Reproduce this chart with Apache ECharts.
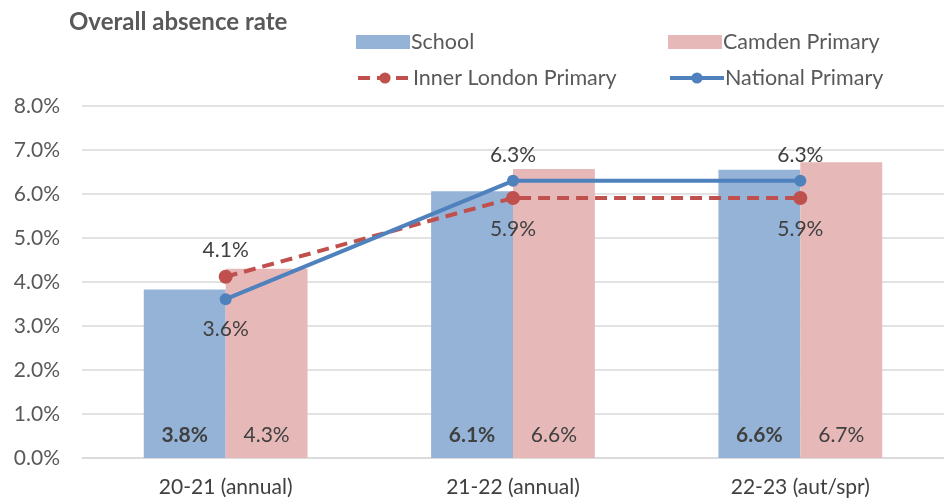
<!DOCTYPE html>
<html><head><meta charset="utf-8">
<script src="https://cdn.jsdelivr.net/npm/echarts@6/dist/echarts.min.js"></script>
<style>html,body{margin:0;padding:0;background:#fff}#c{width:944px;height:500px}</style>
</head><body><div id="c"></div>
<script>
const categories = ['20-21 (annual)', '21-22 (annual)', '22-23 (aut/spr)'];
const school = [3.83, 6.06, 6.55];
const camden = [4.3, 6.57, 6.72];
const innerLondon = [4.12, 5.91, 5.91];
const national = [3.61, 6.3, 6.3];
const schoolLabels = ['3.8%', '6.1%', '6.6%'];
const camdenLabels = ['4.3%', '6.6%', '6.7%'];
const innerLabels = ['4.1%', '5.9%', '5.9%'];
const nationalLabels = ['3.6%', '6.3%', '6.3%'];
const yTicks = [0, 1, 2, 3, 4, 5, 6, 7, 8];

const FONT = 'Lato';
const TXT = '#404040';
const FS = 21;
const chart = echarts.init(document.getElementById('c'), null, {renderer: 'canvas'});
function legendAt(name, left, top, icon) {
  const o = {data: [name], left: left, top: top, itemWidth: 54, itemHeight: 14, itemGap: 5,
    textStyle: {fontFamily: FONT, fontSize: 21.5, color: '#595959', padding: [0, 0, 0, -4]}};
  if (icon) o.icon = icon; else o.lineStyle = {width: 4};
  return o;
}
chart.setOption({
  animation: false,
  textStyle: {fontFamily: FONT},
  title: {text: 'Overall absence rate', left: 64, top: 5,
    textStyle: {fontFamily: FONT, fontSize: 24, fontWeight: 'bold', color: '#595959'}},
  legend: [
    legendAt('School', 351, 26, 'rect'),
    legendAt('Camden Primary', 663, 26, 'rect'),
    legendAt('Inner London Primary', 351, 62),
    legendAt('National Primary', 663, 62)
  ],
  grid: {left: 82, right: -5, top: 106, bottom: 42, containLabel: false},
  xAxis: {type: 'category', data: categories,
    axisLine: {lineStyle: {color: '#D9D9D9', width: 1.5}}, axisTick: {show: false},
    axisLabel: {fontFamily: FONT, fontSize: FS, color: TXT, margin: 19}},
  yAxis: {type: 'value', min: yTicks[0], max: yTicks[yTicks.length - 1], interval: 1,
    axisLine: {show: false}, axisTick: {show: false},
    splitLine: {lineStyle: {color: '#D9D9D9', width: 1.5}},
    axisLabel: {fontFamily: FONT, fontSize: FS, color: '#595959', margin: 22,
      formatter: v => v.toFixed(1) + '%'}},
  series: [
    {name: 'School', type: 'bar', data: school, barGap: 0, barCategoryGap: '43%',
      itemStyle: {color: '#95B3D7'},
      label: {show: true, position: 'insideBottom', distance: 12, fontFamily: FONT, fontSize: FS,
        fontWeight: 'bold', color: TXT, formatter: p => schoolLabels[p.dataIndex]}},
    {name: 'Camden Primary', type: 'bar', data: camden,
      itemStyle: {color: '#E6B9B8'},
      label: {show: true, position: 'insideBottom', distance: 12, fontFamily: FONT, fontSize: FS,
        color: TXT, formatter: p => camdenLabels[p.dataIndex]}},
    {name: 'Inner London Primary', type: 'line',
      data: innerLondon.map((v, i) => ({value: v, label: {position: i === 0 ? 'top' : 'bottom', distance: i === 0 ? 9 : 14}})),
      symbol: 'circle', symbolSize: 14,
      lineStyle: {color: '#C0504D', width: 4, type: [12, 7]},
      itemStyle: {color: '#C0504D'},
      label: {show: true, fontFamily: FONT, fontSize: FS, color: TXT,
        formatter: p => innerLabels[p.dataIndex]}},
    {name: 'National Primary', type: 'line',
      data: national.map((v, i) => ({value: v, label: {position: i === 0 ? 'bottom' : 'top', distance: i === 0 ? 14 : 9}})),
      symbol: 'circle', symbolSize: 12,
      lineStyle: {color: '#4F81BD', width: 4},
      itemStyle: {color: '#4F81BD'},
      label: {show: true, fontFamily: FONT, fontSize: FS, color: TXT,
        formatter: p => nationalLabels[p.dataIndex]}}
  ]
});
</script></body></html>
